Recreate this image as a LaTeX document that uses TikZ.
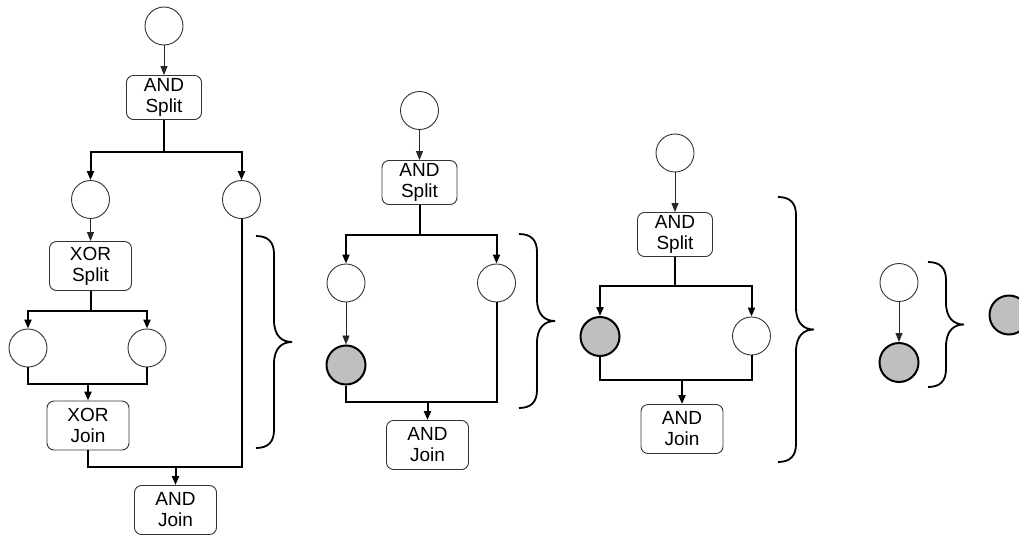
\documentclass[tikz,border=0pt]{standalone}
\usepackage{fontspec}
\setmainfont{Liberation Sans}
\usetikzlibrary{positioning,arrows.meta}

\tikzset{
  place/.style={circle,draw=black!80,line width=0.9pt,minimum size=38pt,inner sep=0pt},
  done/.style={circle,draw=black,fill=black!25,line width=2pt,minimum size=39pt,inner sep=0pt},
  gate/.style={rectangle,rounded corners=7pt,draw=black!80,line width=0.9pt,minimum width=82pt,minimum height=49pt,align=center,inner sep=0pt,font=\fontsize{19}{21}\selectfont},
  splitgate/.style={gate,minimum width=75pt,minimum height=44pt},
  arc/.style={->,line width=0.9pt,black!85},
  wire/.style={line width=2pt},
  curlyline/.style={line width=1.8pt}
}
% brace pointing right: x, top, bottom
\newcommand{\curly}[3]{%
  \pgfmathsetmacro{\braceMid}{(#2+#3)/2}
  \draw[curlyline] (#1,#2) .. controls (#1+12,#2) and (#1+18,#2+6) .. (#1+18,#2+18)
    -- (#1+18,\braceMid-22) .. controls (#1+18,\braceMid-6) and (#1+26,\braceMid) .. (#1+36,\braceMid)
    .. controls (#1+26,\braceMid) and (#1+18,\braceMid+6) .. (#1+18,\braceMid+22)
    -- (#1+18,#3-18) .. controls (#1+18,#3-6) and (#1+12,#3) .. (#1,#3);}

\begin{document}
\begin{tikzpicture}[x=1pt,y=-1pt,on grid,>={Triangle[length=9pt,width=7pt]}]
\useasboundingbox (0,0) rectangle (1019,535);

% first net: AND split with XOR inside
\node[place] (s1) at (164,26) {};
\node[splitgate, below=71.5pt of s1] (as1) {AND\\Split};
\node[place, below left=102pt and 73.5pt of as1] (p1) {};
\node[place, below right=102pt and 77.5pt of as1] (p2) {};
\node[gate, below=66.5pt of p1] (xs1) {XOR\\Split};
\node[place] (q1) at (28,348) {};
\node[place] (q2) at (147,348) {};
\node[gate] (xj1) at (88,425.5) {XOR\\Join};
\node[gate] (aj1) at (175.5,510) {AND\\Join};
\coordinate[below=32pt of as1.south] (b1);
\coordinate[below=20pt of xs1.south] (b2);
\coordinate[above=17pt of xj1.north] (m2);
\coordinate[above=18pt of aj1.north] (m1);
\draw[arc] (s1) -- (as1);
\draw[wire] (as1) -- (b1);
\draw[wire,->] (b1) -| (p1);
\draw[wire,->] (b1) -| (p2);
\draw[arc] (p1) -- (xs1);
\draw[wire] (xs1) -- (b2);
\draw[wire,->] (b2) -| (q1);
\draw[wire,->] (b2) -| (q2);
\draw[wire] (q1) |- (m2);
\draw[wire] (q2) |- (m2);
\draw[wire,->] (m2) -- (xj1);
\draw[wire] (xj1) |- (m1);
\draw[wire] (p2) |- (m1);
\draw[wire,->] (m1) -- (aj1);
\curly{256}{236}{448}

% second net
\node[place] (s2) at (419.5,110.5) {};
\node[splitgate, below=72pt of s2] (as2) {AND\\Split};
\node[place] (p3) at (346,283) {};
\node[place] (p4) at (496.5,283) {};
\node[done, below=82pt of p3] (g1) {};
\node[gate] (aj2) at (427.5,445) {AND\\Join};
\coordinate[below=30.5pt of as2.south] (b3);
\coordinate[above=18.5pt of aj2.north] (m3);
\draw[arc] (s2) -- (as2);
\draw[wire] (as2) -- (b3);
\draw[wire,->] (b3) -| (p3);
\draw[wire,->] (b3) -| (p4);
\draw[arc] (p3) -- (g1);
\draw[wire] (g1) |- (m3);
\draw[wire] (p4) |- (m3);
\draw[wire,->] (m3) -- (aj2);
\curly{519}{234}{408}

% third net
\node[place] (s3) at (675,153) {};
\node[splitgate, below=81.5pt of s3] (as3) {AND\\Split};
\node[done] (g2) at (600,336.5) {};
\node[place] (p5) at (751.5,336) {};
\node[gate] (aj3) at (682,429) {AND\\Join};
\coordinate[below=29.5pt of as3.south] (b4);
\coordinate[above=24.5pt of aj3.north] (m4);
\draw[arc] (s3) -- (as3);
\draw[wire] (as3) -- (b4);
\draw[wire,->] (b4) -| (g2);
\draw[wire,->] (b4) -| (p5);
\draw[wire] (g2) |- (m4);
\draw[wire] (p5) |- (m4);
\draw[wire,->] (m4) -- (aj3);
\curly{778}{197}{462}

% fourth net and result
\node[place] (p6) at (899,282.5) {};
\node[done, below=80pt of p6] (g3) {};
\draw[arc] (p6) -- (g3);
\curly{928}{262}{387}
\node[done] (g4) at (1009,315) {};
\end{tikzpicture}
\end{document}
